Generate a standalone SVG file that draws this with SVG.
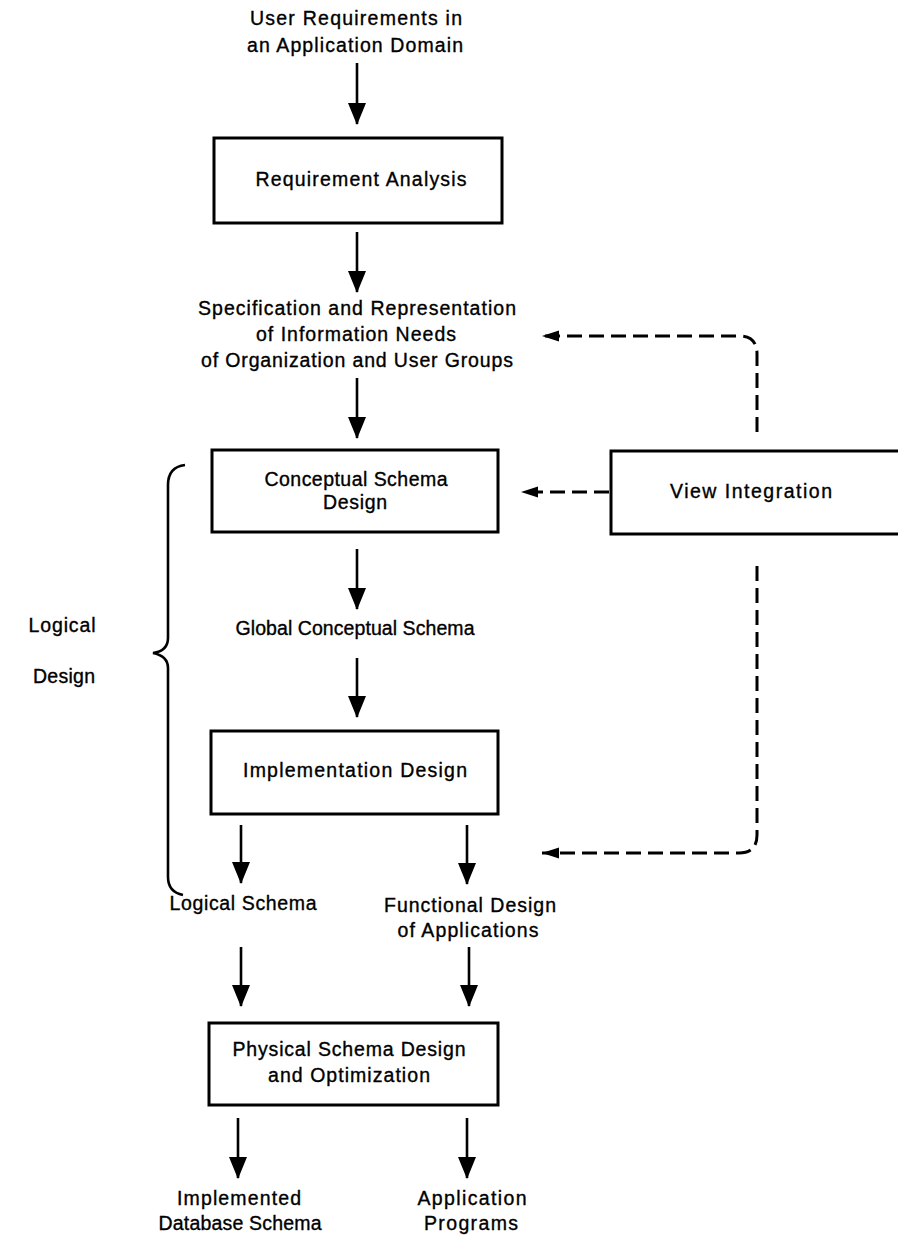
<svg xmlns="http://www.w3.org/2000/svg" width="898" height="1238" viewBox="0 0 898 1238">
<style>
text{font-family:"Liberation Sans",Arial,Helvetica,sans-serif;font-size:19.5px;fill:#000;stroke:#000;stroke-width:0.35;text-anchor:middle}
.box{fill:#fff;stroke:#000;stroke-width:3}
.ln{fill:none;stroke:#000;stroke-width:2.6}
.dash{fill:none;stroke:#000;stroke-width:3;stroke-dasharray:15 7}
.brace{fill:none;stroke:#000;stroke-width:2.6}
</style>
<defs>
<marker id="ah" markerUnits="userSpaceOnUse" markerWidth="18" markerHeight="22" refX="9" refY="21" orient="0" viewBox="0 0 18 22">
<path d="M0,0 L18,0 L9,22 Z" fill="#000"/>
</marker>
<marker id="dh" markerUnits="userSpaceOnUse" markerWidth="17" markerHeight="12" refX="0" refY="6" orient="0" viewBox="0 0 17 12">
<path d="M0,6 L17,0.5 L17,11.5 Z" fill="#000"/>
</marker>
</defs>

<g id="input-label">
<text x="356" y="25" textLength="212" lengthAdjust="spacing">User Requirements in</text>
<text x="355" y="52" textLength="216" lengthAdjust="spacing">an Application Domain</text>
</g>

<g id="requirement-analysis">
<rect class="box" x="214" y="138" width="288" height="85"/>
<text x="361" y="186" textLength="211" lengthAdjust="spacing">Requirement Analysis</text>
</g>

<g id="specification-label">
<text x="357" y="315" textLength="318" lengthAdjust="spacing">Specification and Representation</text>
<text x="356" y="341" textLength="200" lengthAdjust="spacing">of Information Needs</text>
<text x="357" y="367" textLength="312" lengthAdjust="spacing">of Organization and User Groups</text>
</g>

<g id="conceptual-schema-design">
<rect class="box" x="212" y="450" width="286" height="82"/>
<text x="356" y="486" textLength="183" lengthAdjust="spacing">Conceptual Schema</text>
<text x="355" y="509" textLength="64" lengthAdjust="spacing">Design</text>
</g>

<g id="view-integration">
<path class="box" d="M898,451 H611 V534 H898"/>
<text x="751" y="498" textLength="162" lengthAdjust="spacing">View Integration</text>
</g>

<g id="global-conceptual-schema">
<text x="355" y="635" textLength="239" lengthAdjust="spacing">Global Conceptual Schema</text>
</g>

<g id="implementation-design">
<rect class="box" x="211" y="731" width="287" height="83"/>
<text x="355" y="777" textLength="224" lengthAdjust="spacing">Implementation Design</text>
</g>

<g id="logical-design-label">
<path class="brace" d="M185,465 Q168,467 168,485 V638 Q168,651 153,653 Q168,656 168,668 V877 Q168,892 183,895"/>
<text x="62" y="632" textLength="67" lengthAdjust="spacing">Logical</text>
<text x="64" y="683" textLength="62" lengthAdjust="spacing">Design</text>
</g>

<g id="logical-schema">
<text x="243" y="910" textLength="147" lengthAdjust="spacing">Logical Schema</text>
</g>

<g id="functional-design">
<text x="470" y="912" textLength="172" lengthAdjust="spacing">Functional Design</text>
<text x="468" y="937" textLength="141" lengthAdjust="spacing">of Applications</text>
</g>

<g id="physical-schema-design">
<rect class="box" x="209" y="1023" width="289" height="82"/>
<text x="349" y="1056" textLength="233" lengthAdjust="spacing">Physical Schema Design</text>
<text x="349" y="1082" textLength="162" lengthAdjust="spacing">and Optimization</text>
</g>

<g id="implemented-database-schema">
<text x="239" y="1205" textLength="124" lengthAdjust="spacing">Implemented</text>
<text x="240" y="1230" textLength="163" lengthAdjust="spacing">Database Schema</text>
</g>

<g id="application-programs">
<text x="472" y="1205" textLength="109" lengthAdjust="spacing">Application</text>
<text x="471" y="1230" textLength="94" lengthAdjust="spacing">Programs</text>
</g>

<g id="connectors">
<line class="ln" x1="357" y1="63" x2="357" y2="124" marker-end="url(#ah)"/>
<line class="ln" x1="357" y1="232" x2="357" y2="292" marker-end="url(#ah)"/>
<line class="ln" x1="357" y1="378" x2="357" y2="438" marker-end="url(#ah)"/>
<line class="ln" x1="357" y1="549" x2="357" y2="609" marker-end="url(#ah)"/>
<line class="ln" x1="357" y1="658" x2="357" y2="717" marker-end="url(#ah)"/>
<line class="ln" x1="241" y1="825" x2="241" y2="883" marker-end="url(#ah)"/>
<line class="ln" x1="467" y1="825" x2="467" y2="884" marker-end="url(#ah)"/>
<line class="ln" x1="241" y1="947" x2="241" y2="1006" marker-end="url(#ah)"/>
<line class="ln" x1="469" y1="947" x2="469" y2="1006" marker-end="url(#ah)"/>
<line class="ln" x1="238" y1="1118" x2="238" y2="1178" marker-end="url(#ah)"/>
<line class="ln" x1="467" y1="1118" x2="467" y2="1178" marker-end="url(#ah)"/>
<path class="dash" d="M757,432 V354 Q757,336 739,336 H542" marker-end="url(#dh)"/>
<path class="dash" d="M609,492 H521" marker-end="url(#dh)"/>
<path class="dash" d="M757,566 V835 Q757,853 739,853 H542" marker-end="url(#dh)"/>
</g>
</svg>
